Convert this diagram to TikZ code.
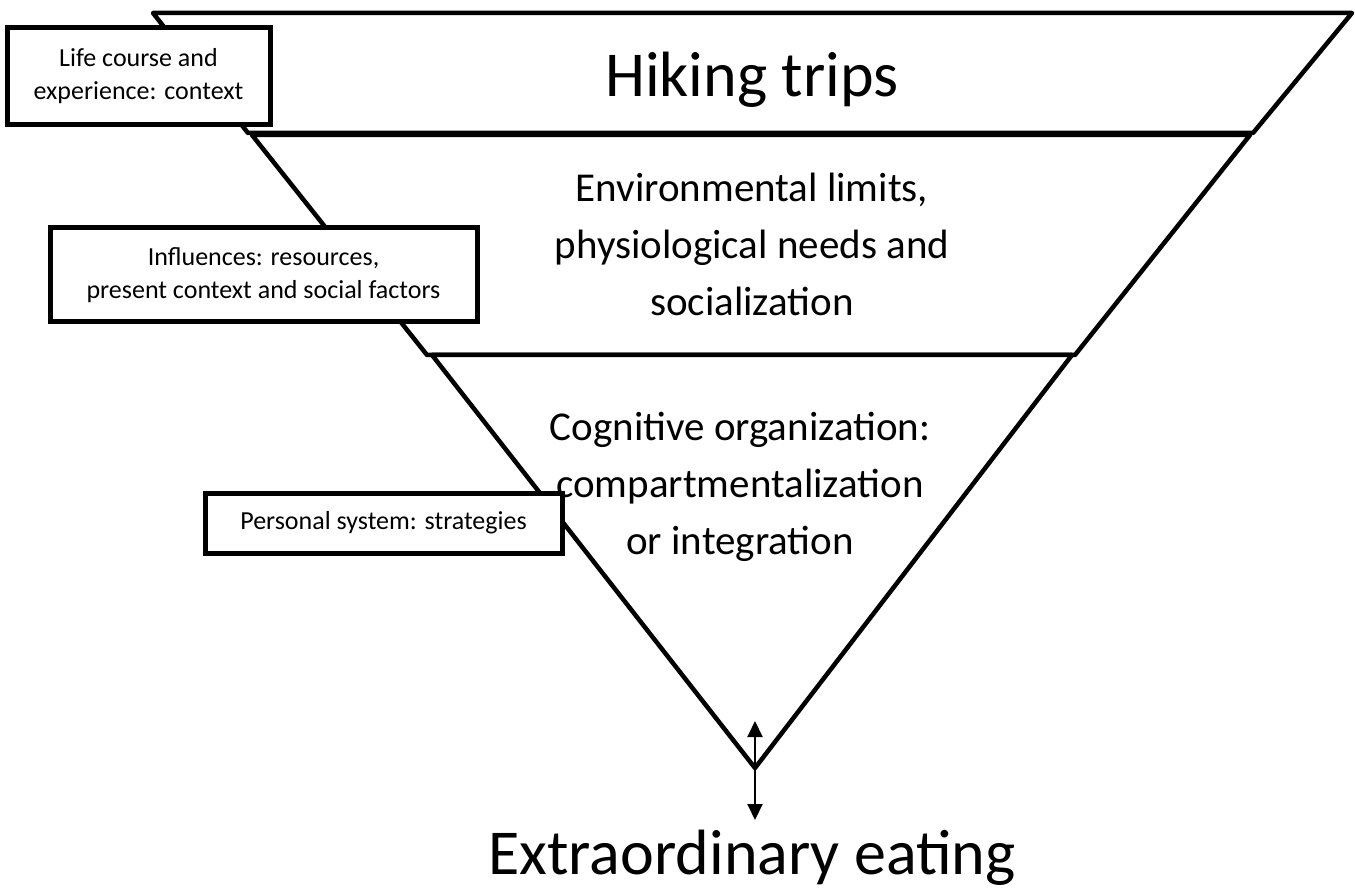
\documentclass[tikz,border=0pt]{standalone}
\usepackage{fontspec}
\setmainfont{Carlito}
\usetikzlibrary{arrows.meta}
\tikzset{
  band/.style={draw=black, line width=4.5pt, line join=round, fill=white},
  sidebox/.style={draw=black, line width=5pt, fill=white, align=center, inner sep=0pt,
     font=\fontsize{26}{33}\selectfont},
  bigtext/.style={font=\fontsize{64}{75}\selectfont, inner sep=0pt, anchor=base},
  midtext/.style={font=\fontsize{41}{57}\selectfont, align=center, inner sep=0pt},
  link/.style={line width=2pt, -{Triangle[length=16pt,width=15pt]}}
}
\begin{document}
\begin{tikzpicture}[x=1pt,y=-1pt]
\useasboundingbox (0,0) rectangle (1355,893);
% bands
\draw[band] (153,13) -- (1352,13) -- (1253,133) -- (248,133) -- cycle;
\draw[band] (252,135) -- (1250,135) -- (1075,355) -- (427,355) -- cycle;
\draw[band] (432,355) -- (1072,355) -- (755,768) -- cycle;
\coordinate (apex) at (755,768);
\coordinate (uptip) at (755,721);
\coordinate (downtip) at (755,820);
% texts
\node[bigtext] (hike) at (752,97) {Hiking trips};
\node[midtext] (env) at (752,244) {Environmental limits,\\physiological needs and\\socialization};
\node[midtext] (cog) at (740,487) {Cognitive organization:\\compartmentalization\\or integration};
\node[bigtext] (extra) at (752,874) {Extraordinary eating};
% side boxes
\node[sidebox, minimum width=263pt, minimum height=97pt] (life) at (138.5,76.5) {Life course and\\experience: context};
\node[sidebox, minimum width=427pt, minimum height=94pt] (infl) at (263.5,275) {Influences: resources,\\present context and social factors};
\node[sidebox, minimum width=357pt, minimum height=60pt] (pers) at (383.5,523) {Personal system: strategies};
% arrows
\draw[link] (apex) -- (uptip);
\draw[link] (apex) -- (downtip);
\end{tikzpicture}
\end{document}
